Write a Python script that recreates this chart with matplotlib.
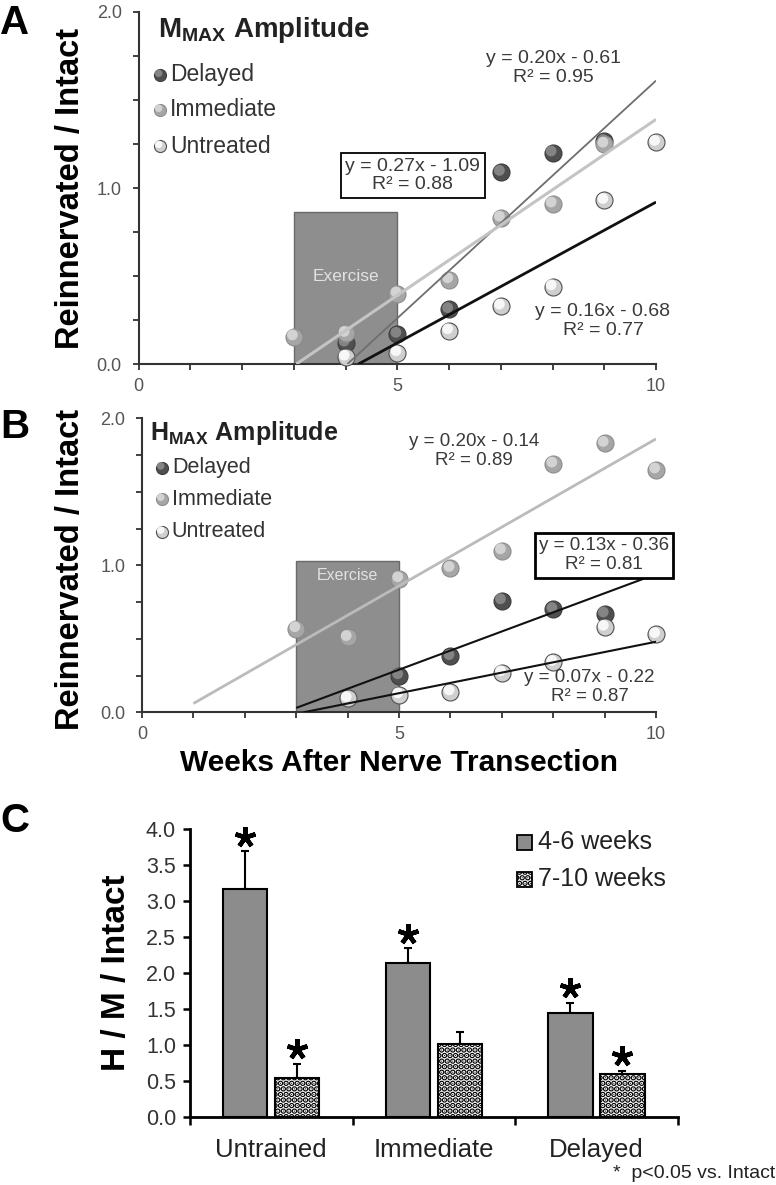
import numpy as np
import matplotlib.pyplot as plt
import matplotlib.transforms as mtransforms
from matplotlib.patches import Rectangle
from matplotlib.ticker import MultipleLocator, FormatStrFormatter

plt.rcParams['font.family'] = ['Liberation Sans', 'DejaVu Sans']
plt.rcParams['mathtext.fontset'] = 'custom'
plt.rcParams['mathtext.rm'] = 'Liberation Sans'
plt.rcParams['mathtext.bf'] = 'Liberation Sans:bold'
plt.rcParams['hatch.linewidth'] = 3.0

# ---------------- data ----------------
# Panel A : M max amplitude (reinnervated / intact)
a_delayed_x = [4, 5, 6, 7, 8, 9]
a_delayed_y = [0.12, 0.17, 0.31, 1.09, 1.20, 1.265]
a_immediate_x = [3, 4, 5, 6, 7, 8, 9]
a_immediate_y = [0.155, 0.175, 0.40, 0.48, 0.83, 0.91, 1.25]
a_untreated_x = [4, 5, 6, 7, 8, 9, 10]
a_untreated_y = [0.04, 0.065, 0.19, 0.33, 0.44, 0.93, 1.26]

# Panel B : H max amplitude
b_delayed_x = [5, 6, 7, 8, 9]
b_delayed_y = [0.25, 0.38, 0.76, 0.70, 0.67]
b_immediate_x = [3, 4, 5, 6, 7, 8, 9, 10]
b_immediate_y = [0.57, 0.51, 0.91, 0.98, 1.10, 1.69, 1.83, 1.65]
b_untreated_x = [4, 5, 6, 7, 8, 9, 10]
b_untreated_y = [0.095, 0.12, 0.14, 0.27, 0.34, 0.58, 0.53]

# trend lines: slope, intercept, R2, first week drawn
a_fits = [(0.27, -1.09, 0.88, 3), (0.20, -0.61, 0.95, 3), (0.16, -0.68, 0.77, 3)]
b_fits = [(0.20, -0.14, 0.89, 1), (0.13, -0.36, 0.81, 3), (0.07, -0.22, 0.87, 3)]

exercise_weeks = (3, 5)

# Panel C : H / M / intact
groups = ['Untrained', 'Immediate', 'Delayed']
early_mean = [3.17, 2.14, 1.44]
early_err = [0.53, 0.21, 0.15]
late_mean = [0.54, 1.01, 0.60]
late_err = [0.20, 0.17, 0.04]
early_sig = [True, True, True]
late_sig = [True, False, True]

# ---------------- helpers ----------------
fig = plt.figure(figsize=(7.76, 11.85), dpi=100)
fig.patch.set_facecolor('white')

styles = {
    'Delayed':   dict(base='#4f4f4f', shine='#8e8e8e', edge='#3c3c3c'),
    'Immediate': dict(base='#a6a6a6', shine='#dcdcdc', edge='#8c8c8c'),
    'Untreated': dict(base='#cfcfcf', shine='#ffffff', edge='#505050'),
}


def balls(ax, x, y, st, size=150, transform=None):
    tr = transform if transform is not None else ax.transData
    ax.scatter(x, y, s=size, c=st['base'], edgecolors=st['edge'], linewidths=0.8,
               zorder=3, clip_on=False, transform=tr)
    off = mtransforms.offset_copy(tr, fig=fig, x=-1.0, y=1.3, units='points')
    ax.scatter(x, y, s=size * 0.4, c=st['shine'], edgecolors='none', alpha=0.85,
               zorder=3, clip_on=False, transform=off)


def scatter_panel(ax, series, fits, line_styles, box_top, ex_y, ex_size, title,
                  title_pos, leg_x, leg_tx, leg_y, eqs, leg_fs, title_fs):
    ax.set_xlim(0, 10)
    ax.set_ylim(0, 2)
    ax.add_patch(Rectangle((exercise_weeks[0], 0), exercise_weeks[1] - exercise_weeks[0],
                           box_top, facecolor='#8e8e8e', edgecolor='#6a6a6a', lw=1.0, zorder=1))
    ax.text(np.mean(exercise_weeks), ex_y, 'Exercise', ha='center', va='center',
            color='#e2e2e2', fontsize=ex_size, zorder=2)
    for name, (xs, ys) in series.items():
        balls(ax, xs, ys, styles[name])
    for (m, b, r2, x0), (col, lw) in zip(fits, line_styles):
        start = max(x0, -b / m)
        xx = np.array([start, 10.0])
        ax.plot(xx, m * xx + b, color=col, lw=lw, zorder=4, solid_capstyle='butt')
    for (m, b, r2, x0), (ex, ey, boxed, fs, blw) in zip(fits, eqs):
        txt = 'y = %.2fx - %.2f\nR\u00b2 = %.2f' % (m, -b, r2)
        kw = {}
        if boxed:
            kw['bbox'] = dict(boxstyle='square,pad=0.22', facecolor='white',
                              edgecolor='black', lw=blw)
        ax.text(ex, ey, txt, ha='center', va='center', fontsize=fs, color='#3a3a3a',
                linespacing=1.15, zorder=5, **kw)
    ax.text(title_pos[0], title_pos[1], title, transform=ax.transAxes, fontsize=title_fs,
            fontweight='bold', ha='left', va='center', color='#222')
    for (name, st), ly in zip(styles.items(), leg_y):
        balls(ax, [leg_x], [ly], st, size=75, transform=ax.transAxes)
        ax.text(leg_tx, ly, name, transform=ax.transAxes, fontsize=leg_fs,
                va='center', ha='left', color='#333')

    for s in ['top', 'right']:
        ax.spines[s].set_visible(False)
    for s in ['left', 'bottom']:
        ax.spines[s].set_color('#333')
        ax.spines[s].set_linewidth(1.5)
    ax.xaxis.set_major_locator(MultipleLocator(5))
    ax.xaxis.set_minor_locator(MultipleLocator(1))
    ax.yaxis.set_major_locator(MultipleLocator(1))
    ax.yaxis.set_minor_locator(MultipleLocator(0.25))
    ax.yaxis.set_major_formatter(FormatStrFormatter('%.1f'))
    ax.tick_params(which='both', direction='out', length=4, width=1.3, color='#333')
    ax.tick_params(axis='y', which='major', labelsize=13, labelcolor='#555', pad=8)
    ax.tick_params(axis='x', which='major', labelsize=13, labelcolor='#555', pad=6)


# ---------------- panel A ----------------
axA = fig.add_axes([0.1785, 0.6928, 0.6669, 0.2971])
scatter_panel(
    axA,
    {'Delayed': (a_delayed_x, a_delayed_y),
     'Immediate': (a_immediate_x, a_immediate_y),
     'Untreated': (a_untreated_x, a_untreated_y)},
    a_fits,
    [('#6e6e6e', 1.3), ('#c4c4c4', 2.2), ('#111111', 2.0)],
    0.865, 0.50, 12.5,
    r'M$_{\mathbf{MAX}}$ Amplitude', (0.038, 0.949),
    0.0415, 0.061, [0.821, 0.7216, 0.619],
    [(5.30, 1.071, True, 14, 1.3), (8.01, 1.68, False, 14, 1), (8.975, 0.243, False, 14, 1)],
    16.5, 20)

# ---------------- panel B ----------------
axB = fig.add_axes([0.1830, 0.3989, 0.6624, 0.2481])
scatter_panel(
    axB,
    {'Delayed': (b_delayed_x, b_delayed_y),
     'Immediate': (b_immediate_x, b_immediate_y),
     'Untreated': (b_untreated_x, b_untreated_y)},
    b_fits,
    [('#bbbbbb', 2.0), ('#111111', 1.5), ('#111111', 1.5)],
    1.03, 0.93, 11.5,
    r'H$_{\mathbf{MAX}}$ Amplitude', (0.0156, 0.951),
    0.039, 0.058, [0.832, 0.7255, 0.614],
    [(6.465, 1.779, False, 13.5, 1), (8.99, 1.067, True, 13.5, 2.0), (8.706, 0.174, False, 13.5, 1)],
    15.5, 18)
axB.set_xlabel('Weeks After Nerve Transection', fontsize=21.5, fontweight='bold', labelpad=4)

fig.text(0.091, 0.8413, 'Reinnervated / Intact', rotation=90, fontsize=23.5,
         fontweight='bold', ha='center', va='center')
fig.text(0.091, 0.5198, 'Reinnervated / Intact', rotation=90, fontsize=23.5,
         fontweight='bold', ha='center', va='center')

# ---------------- panel C ----------------
axC = fig.add_axes([0.2448, 0.0576, 0.6285, 0.2425])
xc = np.arange(len(groups))
bw = 0.273
off = 0.16
axC.bar(xc - off, early_mean, bw, color='#8c8c8c', edgecolor='black', lw=1.5, zorder=2)
axC.bar(xc + off, late_mean, bw, color='white', edgecolor='black', lw=1.5,
        hatch='...', zorder=2)
axC.errorbar(xc - off, early_mean, yerr=[np.zeros(3), early_err], fmt='none',
             ecolor='black', elinewidth=1.5, capsize=3, capthick=1.5, zorder=1)
axC.errorbar(xc + off, late_mean, yerr=[np.zeros(3), late_err], fmt='none',
             ecolor='black', elinewidth=1.5, capsize=3, capthick=1.5, zorder=1)
for i in range(len(groups)):
    if early_sig[i]:
        axC.plot(xc[i] - off, early_mean[i] + early_err[i] + 0.2, marker=(5, 2, 0),
                 ms=15, mew=3.2, color='black', clip_on=False)
    if late_sig[i]:
        axC.plot(xc[i] + off, late_mean[i] + late_err[i] + 0.2, marker=(5, 2, 0),
                 ms=15, mew=3.2, color='black', clip_on=False)

axC.set_xlim(-0.5, 2.5)
axC.set_ylim(0, 4)
axC.yaxis.set_major_locator(MultipleLocator(0.5))
axC.yaxis.set_major_formatter(FormatStrFormatter('%.1f'))
axC.set_xticks([-0.5, 0.5, 1.5, 2.5])
axC.set_xticklabels([])
axC.set_xticks(xc, minor=True)
axC.set_xticklabels(groups, minor=True)
axC.tick_params(axis='x', which='minor', length=0, labelsize=18.5, pad=15, labelcolor='#222')
axC.tick_params(axis='x', which='major', length=6, width=1.8, direction='out')
axC.tick_params(axis='y', length=5, width=1.8, direction='out', labelsize=15.5,
                labelcolor='#333', pad=5)
for s in ['top', 'right']:
    axC.spines[s].set_visible(False)
for s in ['left', 'bottom']:
    axC.spines[s].set_linewidth(2)
axC.set_ylabel('H / M / Intact', fontsize=24, fontweight='bold', labelpad=10)

# legend C
for y0, fc, h, lab, ty in [(0.928, '#8c8c8c', None, '4-6 weeks', 0.956),
                           (0.800, 'white', '...', '7-10 weeks', 0.827)]:
    axC.add_patch(Rectangle((0.670, y0), 0.0308, 0.0522, transform=axC.transAxes,
                            facecolor=fc, edgecolor='black', lw=1.3, hatch=h,
                            clip_on=False))
    axC.text(0.7135, ty, lab, transform=axC.transAxes, fontsize=18, va='center',
             ha='left', color='#222')

fig.text(0.999, 0.0101, '*  p<0.05 vs. Intact', ha='right', va='center', fontsize=14,
         color='#222')

# panel letters
fig.text(0.0, 0.971, 'A', fontsize=29, fontweight='bold', va='baseline')
fig.text(0.0, 0.630, 'B', fontsize=29, fontweight='bold', va='baseline')
fig.text(0.0, 0.298, 'C', fontsize=29, fontweight='bold', va='baseline')

fig.savefig('out.png', dpi=100, facecolor='white')
